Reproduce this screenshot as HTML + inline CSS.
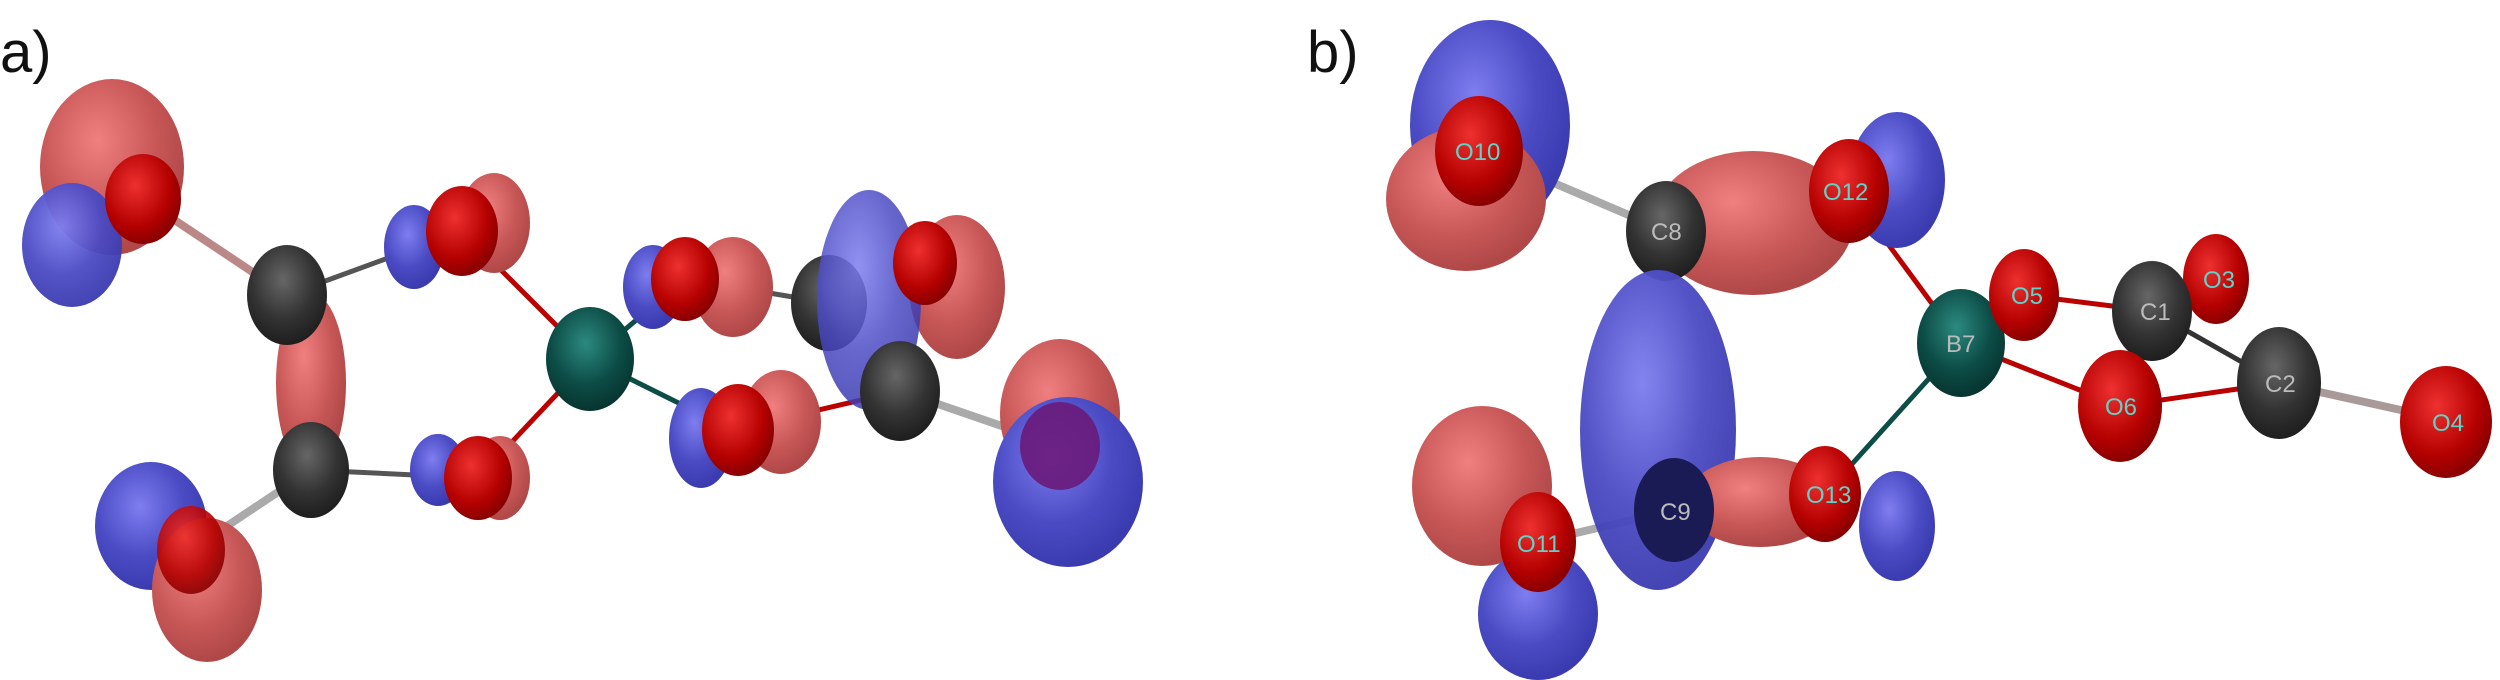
<!DOCTYPE html>
<html><head><meta charset="utf-8"><style>
html,body{margin:0;padding:0;background:#fff;width:2500px;height:680px;overflow:hidden}
svg{display:block}
text{font-family:"Liberation Sans",sans-serif}
.lbl{font-size:24px;fill:#5fd3c8}
.lblc{font-size:24px;fill:#bbb}
</style></head><body>
<svg width="2500" height="680" viewBox="0 0 2500 680">
<defs>
<radialGradient id="lr" cx="40%" cy="35%" r="65%"><stop offset="0" stop-color="#f08080"/><stop offset="0.6" stop-color="#c95858"/><stop offset="1" stop-color="#b04848"/></radialGradient>
<radialGradient id="lb" cx="40%" cy="35%" r="65%"><stop offset="0" stop-color="#7e7ef0"/><stop offset="0.6" stop-color="#4b4bc4"/><stop offset="1" stop-color="#3b3bb0"/></radialGradient>
<radialGradient id="ao" cx="40%" cy="35%" r="65%"><stop offset="0" stop-color="#ee3030"/><stop offset="0.7" stop-color="#b40000"/><stop offset="1" stop-color="#8a0000"/></radialGradient>
<radialGradient id="ac" cx="45%" cy="35%" r="65%"><stop offset="0" stop-color="#666"/><stop offset="0.6" stop-color="#333"/><stop offset="1" stop-color="#1e1e1e"/></radialGradient>
<radialGradient id="ab" cx="45%" cy="35%" r="65%"><stop offset="0" stop-color="#2b8a80"/><stop offset="0.6" stop-color="#0d4d47"/><stop offset="1" stop-color="#073430"/></radialGradient>
</defs>

<text x="0" y="72" font-size="58" fill="#111">a)</text>
<text x="1307" y="72" font-size="58" fill="#111">b)</text>

<g>
 <g stroke-width="5">
  <line x1="287" y1="295" x2="462" y2="231" stroke="#555"/>
  <line x1="311" y1="470" x2="478" y2="478" stroke="#555"/>
  <line x1="287" y1="295" x2="311" y2="470" stroke="#333"/>
  <line x1="462" y1="231" x2="590" y2="359" stroke="#b00"/>
  <line x1="478" y1="478" x2="590" y2="359" stroke="#b00"/>
  <line x1="590" y1="359" x2="685" y2="279" stroke="#0d4d47"/>
  <line x1="590" y1="359" x2="733" y2="430" stroke="#0d4d47"/>
  <line x1="685" y1="279" x2="829" y2="303" stroke="#555"/>
  <line x1="733" y1="430" x2="900" y2="391" stroke="#b00"/>
  <line x1="143" y1="199" x2="287" y2="295" stroke="#b88" stroke-width="8"/>
  <line x1="191" y1="550" x2="311" y2="470" stroke="#aaa" stroke-width="8"/>
  <line x1="900" y1="391" x2="1060" y2="446" stroke="#aaa" stroke-width="8"/>
 </g>
 <ellipse cx="112" cy="167" rx="72" ry="88" fill="url(#lr)"/>
 <ellipse cx="72" cy="245" rx="50" ry="62" fill="url(#lb)" opacity="0.95"/>
 <ellipse cx="143" cy="199" rx="38" ry="45" fill="url(#ao)"/>
 <ellipse cx="311" cy="383" rx="35" ry="90" fill="url(#lr)"/>
 <ellipse cx="287" cy="295" rx="40" ry="50" fill="url(#ac)"/>
 <ellipse cx="311" cy="470" rx="38" ry="48" fill="url(#ac)"/>
 <ellipse cx="151" cy="526" rx="56" ry="64" fill="url(#lb)"/>
 <ellipse cx="207" cy="590" rx="55" ry="72" fill="url(#lr)"/>
 <ellipse cx="191" cy="550" rx="34" ry="44" fill="url(#ao)" opacity="0.9"/>
 <ellipse cx="494" cy="223" rx="36" ry="50" fill="url(#lr)"/>
 <ellipse cx="414" cy="247" rx="30" ry="42" fill="url(#lb)"/>
 <ellipse cx="462" cy="231" rx="36" ry="45" fill="url(#ao)"/>
 <ellipse cx="500" cy="478" rx="30" ry="42" fill="url(#lr)"/>
 <ellipse cx="438" cy="470" rx="28" ry="36" fill="url(#lb)"/>
 <ellipse cx="478" cy="478" rx="34" ry="42" fill="url(#ao)"/>
 <ellipse cx="590" cy="359" rx="44" ry="52" fill="url(#ab)"/>
 <ellipse cx="733" cy="287" rx="40" ry="50" fill="url(#lr)"/>
 <ellipse cx="653" cy="287" rx="30" ry="42" fill="url(#lb)"/>
 <ellipse cx="685" cy="279" rx="34" ry="42" fill="url(#ao)"/>
 <ellipse cx="781" cy="422" rx="40" ry="52" fill="url(#lr)"/>
 <ellipse cx="701" cy="438" rx="32" ry="50" fill="url(#lb)"/>
 <ellipse cx="738" cy="430" rx="36" ry="46" fill="url(#ao)"/>
 <ellipse cx="957" cy="287" rx="48" ry="72" fill="url(#lr)"/>
 <ellipse cx="829" cy="303" rx="38" ry="48" fill="url(#ac)"/>
 <ellipse cx="869" cy="300" rx="52" ry="110" fill="url(#lb)" opacity="0.85"/>
 <ellipse cx="925" cy="263" rx="32" ry="42" fill="url(#ao)"/>
 <ellipse cx="900" cy="391" rx="40" ry="50" fill="url(#ac)"/>
 <ellipse cx="1060" cy="414" rx="60" ry="75" fill="url(#lr)"/>
 <ellipse cx="1068" cy="482" rx="75" ry="85" fill="url(#lb)"/>
 <ellipse cx="1060" cy="446" rx="40" ry="44" fill="#6a1a7a" opacity="0.9"/>
</g>

<g>
 <g stroke-width="5">
  <line x1="1849" y1="191" x2="1961" y2="343" stroke="#b00"/>
  <line x1="1825" y1="494" x2="1961" y2="343" stroke="#0d4d47"/>
  <line x1="1961" y1="343" x2="2024" y2="295" stroke="#0d4d47"/>
  <line x1="1961" y1="343" x2="2120" y2="406" stroke="#b00"/>
  <line x1="2024" y1="295" x2="2152" y2="311" stroke="#b00"/>
  <line x1="2120" y1="406" x2="2279" y2="383" stroke="#b00"/>
  <line x1="2152" y1="311" x2="2279" y2="383" stroke="#333"/>
  <line x1="2279" y1="383" x2="2455" y2="422" stroke="#a99" stroke-width="8"/>
  <line x1="1479" y1="151" x2="1666" y2="231" stroke="#aaa" stroke-width="8"/>
  <line x1="1538" y1="542" x2="1674" y2="510" stroke="#aaa" stroke-width="8"/>
 </g>
 <ellipse cx="1490" cy="125" rx="80" ry="105" fill="url(#lb)"/>
 <ellipse cx="1466" cy="199" rx="80" ry="72" fill="url(#lr)"/>
 <ellipse cx="1479" cy="151" rx="44" ry="55" fill="url(#ao)"/>
 <text x="1455" y="160" class="lbl">O10</text>
 <ellipse cx="1897" cy="180" rx="48" ry="68" fill="url(#lb)"/>
 <ellipse cx="1753" cy="223" rx="100" ry="72" fill="url(#lr)"/>
 <ellipse cx="1666" cy="231" rx="40" ry="50" fill="url(#ac)"/>
 <text x="1651" y="240" class="lblc">C8</text>
 <ellipse cx="1658" cy="430" rx="78" ry="160" fill="url(#lb)" opacity="0.95"/>
 <ellipse cx="1849" cy="191" rx="40" ry="52" fill="url(#ao)"/>
 <text x="1823" y="200" class="lbl">O12</text>
 <ellipse cx="1482" cy="486" rx="70" ry="80" fill="url(#lr)"/>
 <ellipse cx="1538" cy="614" rx="60" ry="66" fill="url(#lb)"/>
 <ellipse cx="1538" cy="542" rx="38" ry="50" fill="url(#ao)"/>
 <text x="1517" y="552" class="lbl">O11</text>
 <ellipse cx="1897" cy="526" rx="38" ry="55" fill="url(#lb)"/>
 <ellipse cx="1760" cy="502" rx="75" ry="45" fill="url(#lr)"/>
 <ellipse cx="1674" cy="510" rx="40" ry="52" fill="#1a1a55"/>
 <text x="1660" y="520" class="lblc">C9</text>
 <ellipse cx="1825" cy="494" rx="36" ry="48" fill="url(#ao)"/>
 <text x="1806" y="503" class="lbl">O13</text>
 <ellipse cx="1961" cy="343" rx="44" ry="54" fill="url(#ab)"/>
 <text x="1946" y="352" class="lblc">B7</text>
 <ellipse cx="2024" cy="295" rx="35" ry="46" fill="url(#ao)"/>
 <text x="2011" y="304" class="lbl">O5</text>
 <ellipse cx="2216" cy="279" rx="33" ry="45" fill="url(#ao)"/>
 <text x="2203" y="288" class="lbl">O3</text>
 <ellipse cx="2152" cy="311" rx="40" ry="50" fill="url(#ac)"/>
 <text x="2140" y="320" class="lblc">C1</text>
 <ellipse cx="2120" cy="406" rx="42" ry="56" fill="url(#ao)"/>
 <text x="2105" y="415" class="lbl">O6</text>
 <ellipse cx="2279" cy="383" rx="42" ry="56" fill="url(#ac)"/>
 <text x="2265" y="392" class="lblc">C2</text>
 <ellipse cx="2446" cy="422" rx="46" ry="56" fill="url(#ao)"/>
 <text x="2432" y="431" class="lbl">O4</text>
</g>
</svg>
</body></html>
